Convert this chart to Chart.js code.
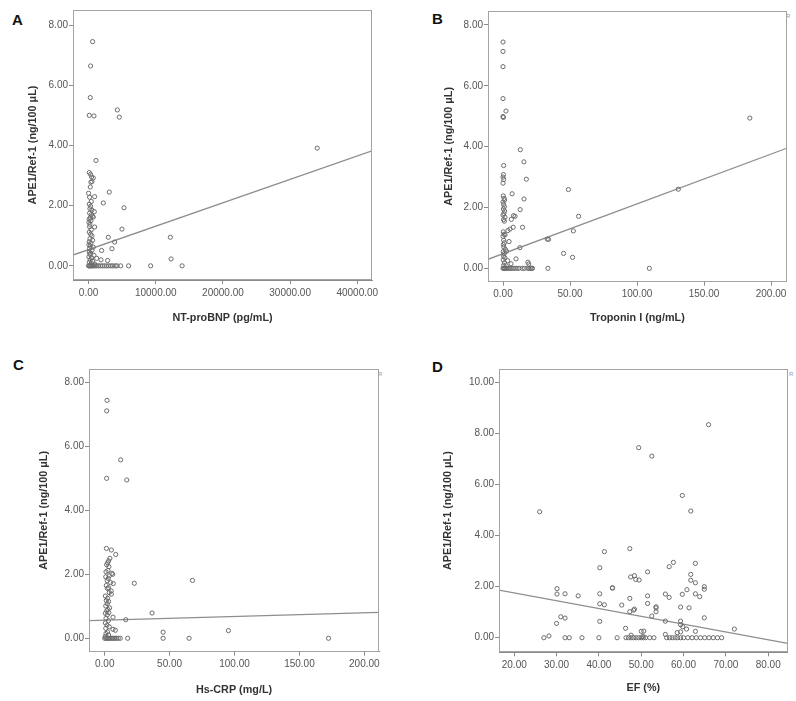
<!DOCTYPE html>
<html>
<head>
<meta charset="utf-8">
<script src="https://cdn.jsdelivr.net/npm/chart.js@4.4.1/dist/chart.umd.min.js"></script>
<style>
  body { margin: 0; background: #fff; width: 796px; height: 701px; position: relative; overflow: hidden; }
  canvas { position: absolute; }
  .letter { position: absolute; font: bold 15px "Liberation Sans", Arial, sans-serif; color: #111; }
  .rmark { position: absolute; font: 6px "Liberation Sans", Arial, sans-serif; color: #999; }
</style>
</head>
<body>
<div class="letter" style="left:12px;top:11px">A</div>
<div class="letter" style="left:432px;top:10px">B</div>
<div class="letter" style="left:13px;top:356px">C</div>
<div class="letter" style="left:432px;top:358px">D</div>
<div class="rmark" style="left:786px;top:13px">R</div>
<div class="rmark" style="left:378px;top:371px">R</div>
<div class="rmark" style="left:789px;top:371px">R</div>

<canvas id="chartA" width="400" height="340" style="left:0;top:0"></canvas>
<canvas id="chartB" width="396" height="340" style="left:400px;top:0"></canvas>
<canvas id="chartC" width="400" height="351" style="left:0;top:350px"></canvas>
<canvas id="chartD" width="396" height="351" style="left:400px;top:350px"></canvas>

<script>
// A: NT-proBNP (pg/mL) vs APE1/Ref-1
const ntProBNP = [
	600, 300, 250, 100, 800, 4280, 4570, 34030, 1100, 100,
	300, 450, 700, 350, 500, 250, 3080, 0, 150, 900,
	400, 2190, 5270, 100, 300, 200, 500, 850, 150, 400,
	600, 250, 100, 700, 350, 50, 200, 900, 4970, 150,
	400, 100, 300, 500, 2930, 12170, 200, 600, 100, 3880,
	350, 50, 250, 700, 150, 3480, 1940, 500, 100, 300,
	200, 800, 50, 450, 1200, 12280, 250, 1850, 2830, 600,
	100, 400, 900,
	0, 100, 200, 300, 450, 600, 800, 1000, 1250, 1500,
	1800, 2100, 2400, 2700, 3000, 3300, 3600, 3980, 4230, 4770,
	5960, 9240, 13920
];
const ape1A = [
	7.45, 6.64, 5.59, 5.0, 4.98, 5.18, 4.94, 3.91, 3.5, 3.1,
	3.04, 2.95, 2.92, 2.78, 2.8, 2.62, 2.45, 2.41, 2.28, 2.30,
	2.14, 2.09, 1.93, 2.05, 1.98, 1.9, 1.85, 1.80, 1.75, 1.70,
	1.65, 1.60, 1.55, 1.62, 1.5, 1.45, 1.38, 1.29, 1.22, 1.3,
	1.2, 1.12, 1.05, 1.0, 0.95, 0.95, 0.9, 0.85, 0.8, 0.79,
	0.75, 0.7, 0.66, 0.62, 0.58, 0.57, 0.51, 0.52, 0.46, 0.42,
	0.38, 0.35, 0.3, 0.27, 0.25, 0.23, 0.2, 0.2, 0.18, 0.15,
	0.12, 0.08, 0.06,
	0, 0, 0, 0, 0, 0, 0, 0, 0, 0,
	0, 0, 0, 0, 0, 0, 0, 0, 0, 0,
	0, 0, 0
];
const fitA = [0.54, 0.0000777]; // intercept, slope
const xTicksA = [0, 10000, 20000, 30000, 40000];

// B: Troponin I (ng/mL)
const troponinI = [
	0, 0, 0, 0, 2.2, 0, 0.3, 184.2, 12.9, 15.6,
	0.5, 0.3, 0, 0.5, 0, 17.4, 48.8, 130.8, 6.8, 15.7,
	0.2, 0.8, 1.2, 0, 0.5, 1.0, 0.3, 12.8, 1.2, 0.6,
	56.4, 7.8, 9.0, 0, 6.2, 1.5, 0.4, 1.0, 14.6, 7.6,
	5.2, 3.6, 52.5, 0.2, 0.8, 1.5, 0, 33.0, 34.0, 0.5,
	4.5, 1.0, 0.3, 12.6, 0.6, 1.8, 2.6, 0.2, 45.2, 0.8,
	51.9, 0.4, 1.4, 9.7, 0.2, 3.5, 18.6, 19.2, 6.0, 1.0,
	0.5, 2.5,
	0, 0.5, 1, 1.6, 2.3, 3, 4, 5, 6, 7.5,
	9, 10.5, 12, 14.4, 16, 18.5, 19.5, 20.5, 21.5, 22,
	33.5, 109.2
];
const ape1B = [
	7.44, 7.13, 6.63, 5.58, 5.17, 4.99, 4.96, 4.94, 3.9, 3.5,
	3.38, 3.08, 3.0, 2.92, 2.8, 2.93, 2.59, 2.6, 2.45, 2.28,
	2.38, 2.3, 2.25, 2.18, 2.1, 2.02, 1.95, 1.93, 1.88, 1.8,
	1.71, 1.73, 1.71, 1.75, 1.61, 1.68, 1.6, 1.55, 1.35, 1.35,
	1.29, 1.24, 1.23, 1.2, 1.12, 1.1, 1.05, 0.96, 0.95, 0.92,
	0.88, 0.84, 0.78, 0.68, 0.7, 0.62, 0.56, 0.55, 0.49, 0.48,
	0.36, 0.4, 0.35, 0.31, 0.28, 0.25, 0.2, 0.14, 0.15, 0.18,
	0.1, 0.08,
	0, 0, 0, 0, 0, 0, 0, 0, 0, 0,
	0, 0, 0, 0, 0, 0, 0, 0, 0, 0,
	0, 0
];
const fitB = [0.48, 0.01638];
const xTicksB = [0, 50, 100, 150, 200];

// C: Hs-CRP (mg/L)
const hsCRP = [
	1.8, 1.5, 12.3, 1.5, 17.0, 1.3, 5.1, 8.5, 4.0, 3.0,
	2.2, 1.5, 3.2, 2.5, 1.0, 5.5, 6.2, 3.5, 0.8, 2.8,
	1.9, 22.8, 67.6, 6.6, 4.5, 1.2, 3.0, 2.0, 5.0, 3.5,
	5.1, 0.5, 2.2, 1.2, 3.0, 2.0, 0.8, 3.8, 2.5, 1.5,
	0.5, 3.2, 36.5, 2.0, 6.4, 1.0, 16.2, 2.8, 0.5, 1.8,
	3.5, 0.8, 6.4, 8.2, 95.3, 45.0, 2.2, 1.0, 3.0, 0.5,
	0, 0.8, 1.6, 2.4, 3.2, 4.0, 5.0, 6.0, 7.0, 8.0,
	9.2, 10.5, 12.0, 17.7, 45.0, 65.0, 172.4
];
const ape1C = [
	7.44, 7.11, 5.58, 5.0, 4.95, 2.81, 2.76, 2.62, 2.5, 2.42,
	2.36, 2.3, 2.24, 2.12, 2.08, 2.03, 2.0, 1.95, 1.92, 1.87,
	1.8, 1.72, 1.81, 1.71, 1.74, 1.65, 1.58, 1.56, 1.48, 1.43,
	1.38, 1.32, 1.25, 1.18, 1.15, 1.08, 1.01, 0.95, 0.9, 0.86,
	0.78, 0.8, 0.79, 0.73, 0.66, 0.62, 0.58, 0.55, 0.48, 0.41,
	0.36, 0.31, 0.28, 0.25, 0.24, 0.19, 0.2, 0.15, 0.1, 0.06,
	0, 0, 0, 0, 0, 0, 0, 0, 0, 0,
	0, 0, 0, 0, 0, 0, 0
];
const fitC = [0.564, 0.00116];
const xTicksC = [0, 50, 100, 150, 200];

// D: EF (%)
const ef = [
	26, 49.4, 52.5, 59.7, 61.7, 65.9, 41.3, 47.3, 40.2, 57.6,
	56.6, 62.8, 51.5, 47.5, 48.4, 48.7, 49.5, 61.7, 61.7, 62.8,
	64.9, 64.9, 30.1, 30.1, 32, 35.1, 40.2, 43.2, 43.2, 51.5,
	55.7, 56.6, 59.7, 60.8, 62.8, 63.8, 40.2, 41.3, 45.4, 47.3,
	48.4, 48.2, 47.3, 51.5, 53.5, 53.5, 53.5, 52.5, 59.3, 61.3,
	59.3, 59.3, 64.9, 55.7, 30, 31, 32, 40.2, 46.3, 50.0,
	59.8, 60.7, 62.8, 72, 59.3, 50.6, 55.7, 58.5, 28.2, 47.6,
	50.4,
	27, 32, 33, 36, 40, 44.3, 46.4, 47, 47.6, 48.2,
	48.8, 49.4, 50, 50.5, 51, 52, 53, 56, 56.7, 57.3,
	58, 58.6, 59.3, 60, 61, 62, 63, 64, 65, 66,
	67, 68, 69
];
const ape1D = [
	4.93, 7.44, 7.11, 5.57, 4.96, 8.34, 3.37, 3.49, 2.74, 2.95,
	2.78, 2.91, 2.58, 2.38, 2.43, 2.28, 2.26, 2.48, 2.25, 2.15,
	2.0, 1.9, 1.92, 1.71, 1.72, 1.64, 1.72, 1.96, 1.94, 1.64,
	1.71, 1.58, 1.70, 1.88, 1.72, 1.61, 1.33, 1.29, 1.28, 1.54,
	1.12, 1.08, 1.02, 1.34, 1.21, 1.17, 1.02, 0.85, 1.2, 1.17,
	0.65, 0.51, 0.78, 0.65, 0.56, 0.82, 0.77, 0.64, 0.37, 0.25,
	0.43, 0.34, 0.25, 0.34, 0.23, 0.26, 0.13, 0.2, 0.07, 0.1,
	0.05,
	0, 0, 0, 0, 0, 0, 0, 0, 0, 0,
	0, 0, 0, 0, 0, 0, 0, 0, 0, 0,
	0, 0, 0, 0, 0, 0, 0, 0, 0, 0,
	0, 0, 0
];
const fitD = [2.37, -0.0306];
const xTicksD = [20, 30, 40, 50, 60, 70, 80];

const yTicks = [0, 2, 4, 6, 8];
const yTicksD = [0, 2, 4, 6, 8, 10];

const yTitle = 'APE1/Ref-1 (ng/100 μL)';
const tickFont = { family: '"Liberation Sans", Arial, sans-serif', size: 10 };
const titleFont = { family: '"Liberation Sans", Arial, sans-serif', size: 10.8, weight: 'bold' };

const frame = {
	id: 'frame',
	afterDraw(chart) {
		const a = chart.chartArea, ctx = chart.ctx;
		ctx.save();
		ctx.strokeStyle = '#a3a3a3';
		ctx.lineWidth = 1;
		ctx.strokeRect(Math.round(a.left) + 0.5, Math.round(a.top) + 0.5,
			Math.round(a.right - a.left) - 1, Math.round(a.bottom - a.top) - 1);
		ctx.restore();
	}
};

function scatterPanel(id, xs, ys, fit, o) {
	const points = xs.map((x, i) => ({ x: x, y: ys[i] }));
	const line = [o.xMin, o.xMax].map(x => ({ x: x, y: fit[0] + fit[1] * x }));
	return new Chart(document.getElementById(id), {
		type: 'scatter',
		data: {
			datasets: [{
				data: points,
				pointRadius: 2.1,
				pointHoverRadius: 2.1,
				borderWidth: 1,
				borderColor: '#6c6c6c',
				backgroundColor: 'rgba(0,0,0,0)'
			}, {
				type: 'line',
				data: line,
				borderColor: '#8e8e8e',
				borderWidth: 1.3,
				pointRadius: 0,
				fill: false
			}]
		},
		plugins: [frame],
		options: {
			responsive: false,
			animation: false,
			layout: { padding: { left: 0, top: o.padTop, right: o.padRight, bottom: 0 } },
			plugins: { legend: { display: false }, tooltip: { enabled: false } },
			scales: {
				x: {
					type: 'linear',
					min: o.xMin,
					max: o.xMax,
					afterBuildTicks: s => { s.ticks = o.xTicks.map(v => ({ value: v })); },
					afterFit: s => { s.height = o.xHeight; },
					border: { color: '#8a8a8a' },
					grid: { drawOnChartArea: false, tickLength: 4, color: '#8a8a8a' },
					ticks: {
						maxRotation: 0,
						autoSkip: false,
						padding: 3,
						color: '#555',
						font: tickFont,
						callback: v => v.toFixed(2)
					},
					title: { display: true, text: o.xTitle, color: '#333', font: titleFont, padding: { top: 0, bottom: o.xTitlePad } }
				},
				y: {
					min: o.yMin,
					max: o.yMax,
					afterBuildTicks: s => { s.ticks = o.yTicks.map(v => ({ value: v })); },
					afterFit: s => { s.width = o.yWidth; },
					border: { color: '#8a8a8a' },
					grid: { drawOnChartArea: false, tickLength: 4, color: '#8a8a8a' },
					ticks: {
						padding: 1,
						color: '#555',
						font: tickFont,
						callback: v => v.toFixed(2)
					},
					title: { display: true, text: yTitle, color: '#333', font: titleFont, padding: { top: o.yTitlePad, bottom: 0 } }
				}
			}
		}
	});
}

scatterPanel('chartA', ntProBNP, ape1A, fitA, {
	xMin: -2320, xMax: 42190, xTicks: xTicksA, yMin: -0.47, yMax: 8.5, yTicks: yTicks,
	padTop: 10, padRight: 28, yWidth: 73, xHeight: 60,
	yTitlePad: 26.5, xTitlePad: 15.5, xTitle: 'NT-proBNP (pg/mL)'
});
scatterPanel('chartB', troponinI, ape1B, fitB, {
	xMin: -11.2, xMax: 211.7, xTicks: xTicksB, yMin: -0.44, yMax: 8.46, yTicks: yTicks,
	padTop: 11, padRight: 9.3, yWidth: 88, xHeight: 58.3,
	yTitlePad: 42.8, xTitlePad: 15.5, xTitle: 'Troponin I (ng/mL)'
});
scatterPanel('chartC', hsCRP, ape1C, fitC, {
	xMin: -12.1, xMax: 211.3, xTicks: xTicksC, yMin: -0.42, yMax: 8.42, yTicks: yTicks,
	padTop: 19, padRight: 21, yWidth: 89, xHeight: 49.3,
	yTitlePad: 37.8, xTitlePad: 4.5, xTitle: 'Hs-CRP (mg/L)'
});
scatterPanel('chartD', ef, ape1D, fitD, {
	xMin: 16.4, xMax: 84.6, xTicks: xTicksD, yMin: -0.57, yMax: 10.52, yTicks: yTicksD,
	padTop: 19, padRight: 8.3, yWidth: 99, xHeight: 48.7,
	yTitlePad: 41.8, xTitlePad: 6.5, xTitle: 'EF (%)'
});
</script>
</body>
</html>
